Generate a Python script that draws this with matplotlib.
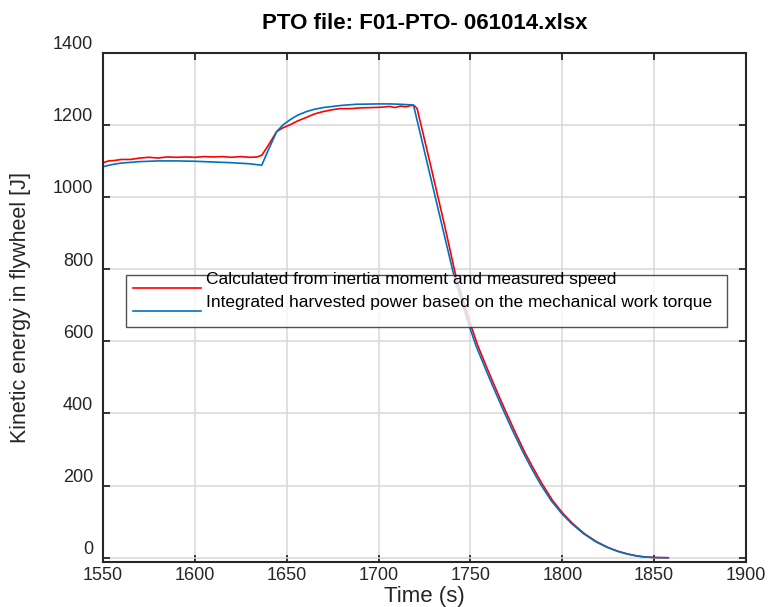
import matplotlib
matplotlib.use('Agg')

import matplotlib.pyplot as plt
import matplotlib.transforms as mtransforms

plt.rcParams['font.family'] = ['Liberation Sans', 'DejaVu Sans']

# blue: integrated harvested power
t_blue = [1550, 1555, 1560, 1570, 1580, 1590, 1600, 1610, 1620, 1630, 1636.4,
          1640, 1644.5, 1648, 1651.8, 1656, 1660.9, 1665, 1670, 1680, 1688,
          1700, 1706, 1712, 1719, 1727, 1735, 1740.7, 1745, 1749.2, 1753,
          1758.9, 1763, 1768, 1773, 1778.9, 1783, 1788, 1794, 1799.8,
          1805, 1811.5, 1818, 1824.3, 1830, 1835.2, 1840, 1844.1, 1850, 1857.7]
e_blue = [1084, 1090, 1094, 1098, 1100, 1100, 1099, 1097, 1095, 1092, 1088,
          1130, 1181, 1200, 1214, 1227, 1237, 1243, 1248, 1254, 1257,
          1258, 1258, 1257, 1255, 1083, 911, 789, 714, 645, 588,
          515, 466, 408, 352, 290, 250, 205, 158, 122,
          95, 67, 45, 29, 18, 10.5, 5.5, 2.5, 0.6, 0]

# red: inertia moment * measured speed
t_red = [1550, 1553, 1556, 1560, 1565, 1570, 1575, 1580, 1585, 1590, 1595,
         1600, 1605, 1610, 1615, 1620, 1625, 1630, 1634, 1636.5, 1639.6,
         1644.5, 1648, 1651.8, 1656, 1660.9, 1665, 1670, 1675, 1679, 1685,
         1690, 1697, 1702, 1706, 1709, 1712, 1715, 1718, 1719.5, 1721, 1728,
         1736, 1741.7, 1746, 1750.2, 1754, 1759.9, 1764, 1769, 1774, 1779.8,
         1784, 1789, 1794.8, 1800.5, 1805.6, 1812, 1818.5, 1824.7, 1830.3,
         1835.5, 1840.2, 1844.3, 1850, 1857.7]
e_red = [1095, 1100, 1101, 1104, 1104, 1108, 1110, 1108, 1111, 1110, 1111,
         1110, 1112, 1111, 1112, 1110, 1112, 1110, 1111, 1116, 1140,
         1181, 1192, 1200, 1211, 1221, 1230, 1237, 1242, 1245, 1245,
         1247, 1248, 1249, 1251, 1248, 1252, 1250, 1254, 1253, 1245, 1095,
         920, 789, 714, 645, 588, 515, 466, 408, 352, 290,
         250, 205, 158, 122, 95, 67, 45, 29, 18,
         10.5, 5.5, 2.5, 0.6, 0]

xticks = [1550, 1600, 1650, 1700, 1750, 1800, 1850, 1900]
yticks = [0, 200, 400, 600, 800, 1000, 1200, 1400]

fig = plt.figure(figsize=(7.69, 6.07), dpi=100)
ax = fig.add_axes([0.1339, 0.0746, 0.8362, 0.8386])

ax.plot(t_red, e_red, color=(1, 0, 0), lw=1.2,
        label='Calculated from inertia moment and measured speed')
ax.plot(t_blue, e_blue, color='#0072BD', lw=1.2,
        label='Integrated harvested power based on the mechanical work torque')

ax.set_xlim(1550, 1900)
ax.set_ylim(-11, 1400)
ax.set_xticks(xticks)
ax.set_yticks(yticks)
ax.grid(True, color='#d9d9d9', lw=1.1)
ax.set_axisbelow(True)
for s in ax.spines.values():
    s.set_linewidth(1.5)
    s.set_color('#262626')
ax.tick_params(direction='in', length=5, width=1.3, top=True, right=True,
               labelsize=13, colors='#262626')
ax.tick_params(axis='x', pad=4)
ax.tick_params(axis='y', pad=7)

# y labels sit a bit above their ticks in the original
off = mtransforms.ScaledTranslation(0, 0.10, fig.dpi_scale_trans)
for lbl in ax.get_yticklabels():
    lbl.set_transform(lbl.get_transform() + off)

ax.set_xlabel('Time (s)', fontsize=16, color='#262626', labelpad=1)
ax.set_ylabel('Kinetic energy in flywheel [J]', fontsize=15.5, color='#262626', labelpad=16)
ax.set_title('PTO file: F01-PTO- 061014.xlsx', fontsize=16, fontweight='bold', pad=17)

leg = ax.legend(loc='upper left', bbox_to_anchor=(0.0358, 0.4633, 0.9348, 0.1),
                mode='expand', fontsize=12.5, frameon=True, fancybox=False,
                edgecolor='#262626', handlelength=3.9, handletextpad=0.3,
                borderpad=0.42, labelspacing=0.42, borderaxespad=0)
leg.get_frame().set_linewidth(1.0)
# text sits above its line sample in the original
for txt in leg.get_texts():
    txt.set_y(10)

fig.savefig('out.png', dpi=100)
